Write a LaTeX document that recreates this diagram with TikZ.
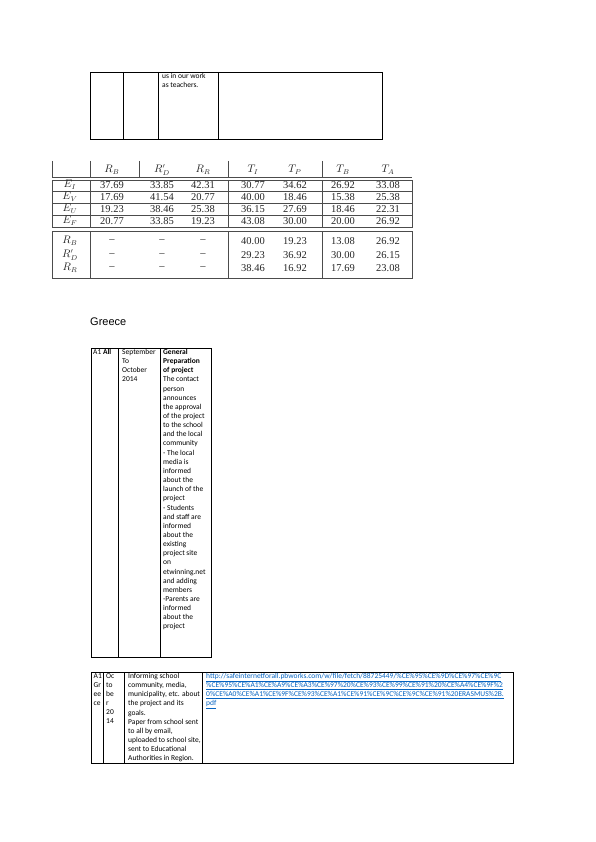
\documentclass[tikz,border=0pt]{standalone}
\usepackage{fontspec}
\setmainfont{Liberation Serif}
\newfontfamily\calibri{Carlito}
\newfontfamily\arial{Liberation Sans}
\usetikzlibrary{positioning}
\definecolor{linkblue}{RGB}{5,99,193}
\newcommand\colxs{{112,162,203,253,295,343,388}}

\begin{document}
\begin{tikzpicture}[x=1pt,y=-1pt,
	rule/.style={line width=0.8pt},
	grid/.style={line width=0.8pt,black!70},
	txt/.style={anchor=north west,inner sep=0pt,align=left,font=\calibri\fontsize{7.5}{9.15}\selectfont},
	num/.style={inner sep=0pt,font=\fontsize{10.5}{12}\selectfont,text=black!85},
	link/.style={txt,text=linkblue}]
	\useasboundingbox (0,0) rectangle (596,842);

	% end of the table from the previous page
	\draw[rule] (90,72) rectangle (382,139);
	\draw[rule] (123,72) -- (123,139) (158,72) -- (158,139) (218,72) -- (218,139);
	\node[txt] (work) at (162,73) {us in our work\\as teachers.};

	% results figure
	\foreach \x in {52,90,139,228,322} \draw[grid] (\x,161) -- (\x,178);
	\draw[grid] (52,177.5) -- (412,177.5);
	\draw[grid] (52,180) rectangle (412,227) (52,231) rectangle (412,278);
	\foreach \y in {191,203,215} \draw[grid] (52,\y) -- (412,\y);
	\foreach \x in {90,228,322} \draw[grid] (\x,180) -- (\x,227) (\x,231) -- (\x,278);
	\foreach \lab [count=\i] in {R_B,R'_D,R_R,T_I,T_P,T_B,T_A} {
		\pgfmathsetmacro\xx{\colxs[\i-1]}
		\node[num] (head-\i) at (\xx,170) {$\lab$};
	}
	\foreach \nm/\lab/\yy/\vals in {
		EI/E_I/185/{37.69,33.85,42.31,30.77,34.62,26.92,33.08},
		EV/E_V/197/{17.69,41.54,20.77,40.00,18.46,15.38,25.38},
		EU/E_U/209/{19.23,38.46,25.38,36.15,27.69,18.46,22.31},
		EF/E_F/221/{20.77,33.85,19.23,43.08,30.00,20.00,26.92},
		RB/R_B/241/{--,--,--,40.00,19.23,13.08,26.92},
		RD/R'_D/255/{--,--,--,29.23,36.92,30.00,26.15},
		RR/R_R/268/{--,--,--,38.46,16.92,17.69,23.08}} {
		\node[num] (\nm) at (70,\yy) {$\lab$};
		\foreach \v [count=\i] in \vals {
			\pgfmathsetmacro\xx{\colxs[\i-1]}
			\node[num] (\nm-\i) at (\xx,\yy) {\v};
		}
	}

	\node[anchor=base west,inner sep=0pt,font=\arial\fontsize{11}{13}\selectfont] (greece) at (90,325) {Greece};

	% activity A1
	\draw[rule] (91,348) rectangle (211,657);
	\draw[rule] (118,348) -- (118,657) (160,348) -- (160,657);
	\node[txt] (a1) at (93,349) {A1 \textbf{All}};
	\node[txt] (when) at (122,349) {September\\To\\October\\2014};
	\node[txt] (prep) at (163,349) {\textbf{General}\\\textbf{Preparation}\\\textbf{of project}\\The contact\\person\\announces\\the approval\\of the project\\to the school\\and the local\\community\\- The local\\media is\\informed\\about the\\launch of the\\project\\- Students\\and staff are\\informed\\about the\\existing\\project site\\on\\etwinning.net\\and adding\\members\\-Parents are\\informed\\about the\\project};

	% A1 in Greece
	\draw[rule] (91,672) rectangle (513,763);
	\draw[rule] (103,672) -- (103,763) (124,672) -- (124,763) (202,672) -- (202,763);
	\node[txt] (a1gr) at (93.5,673) {A1\\Gr\\ee\\ce};
	\node[txt] (oct) at (106,673) {Oc\\to\\be\\r\\20\\14};
	\node[txt] (inform) at (128,673) {Informing school\\community, media,\\municipality, etc. about\\the project and its\\goals.\\Paper from school sent\\to all by email,\\uploaded to school site,\\sent to Educational\\Authorities in Region.};
	\node[link] (url) at (206,673) {\underline{http://safeinternetforall.pbworks.com/w/file/fetch/88725449/\%CE\%95\%CE\%9D\%CE\%97\%CE\%9C}\\\underline{\%CE\%95\%CE\%A1\%CE\%A9\%CE\%A3\%CE\%97\%20\%CE\%93\%CE\%99\%CE\%91\%20\%CE\%A4\%CE\%9F\%2}\\\underline{0\%CE\%A0\%CE\%A1\%CE\%9F\%CE\%93\%CE\%A1\%CE\%91\%CE\%9C\%CE\%9C\%CE\%91\%20ERASMUS\%2B.}\\\underline{pdf}};
\end{tikzpicture}
\end{document}
